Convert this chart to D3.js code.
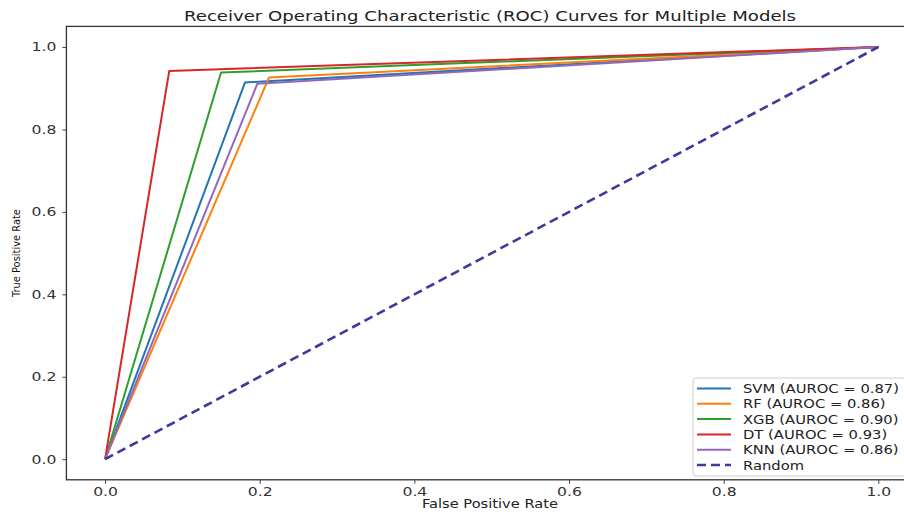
<!DOCTYPE html>
<html>
<head>
<meta charset="utf-8">
<script src="https://cdn.jsdelivr.net/npm/d3@7"></script>
<style>
  body { margin: 0; background: #fff; }
  svg { display: block; font-family: "DejaVu Sans", sans-serif; }
</style>
</head>
<body>
<div id="parentdiv"></div>
<script>
const width = 904;
const height = 512;

// ROC points per model (fpr, tpr)
var models = ["SVM", "RF", "XGB", "DT", "KNN"];
var aurocs = ["0.87", "0.86", "0.90", "0.93", "0.86"];
var fpr = [[0, 0.181, 1], [0, 0.212, 1], [0, 0.150, 1], [0, 0.083, 1], [0, 0.197, 1]];
var tpr = [[0, 0.914, 1], [0, 0.926, 1], [0, 0.938, 1], [0, 0.942, 1], [0, 0.911, 1]];
var colors = ["#1f77b4", "#ff7f0e", "#2ca02c", "#d62728", "#9467bd"];
var randomLine = [[0, 0], [1, 1]];
var tickValues = [0, 0.2, 0.4, 0.6, 0.8, 1.0];

var margin = {left: 66.4, right: 917, top: 26.4, bottom: 479.8};
var stretchK = 1.22; // the picture is wider than tall, text gets stretched

var xScale = d3.scaleLinear().domain([-0.05, 1.05]).range([margin.left, margin.right]);
var yScale = d3.scaleLinear().domain([-0.05, 1.05]).range([margin.bottom, margin.top]);

var svg = d3.select("#parentdiv").append("svg")
    .attr("width", width)
    .attr("height", height);

function stretch(sel, k) {
    sel.each(function () {
        var len = this.getComputedTextLength();
        d3.select(this).attr("textLength", len * k).attr("lengthAdjust", "spacingAndGlyphs");
    });
}

// title
svg.append("text")
    .attr("x", 490)
    .attr("y", 21)
    .attr("text-anchor", "middle")
    .attr("font-size", 14.5)
    .attr("fill", "#222")
    .attr("textLength", 612)
    .attr("lengthAdjust", "spacingAndGlyphs")
    .text("Receiver Operating Characteristic (ROC) Curves for Multiple Models");

var line = d3.line()
    .x(d => xScale(d[0]))
    .y(d => yScale(d[1]));

var plot = svg.append("g");

models.forEach(function (m, i) {
    var pts = fpr[i].map((f, j) => [f, tpr[i][j]]);
    plot.append("path")
        .attr("d", line(pts))
        .attr("fill", "none")
        .attr("stroke", colors[i])
        .attr("stroke-width", 2)
        .attr("stroke-linejoin", "round");
});

plot.append("path")
    .attr("d", line(randomLine))
    .attr("fill", "none")
    .attr("stroke", "#3b3b9c")
    .attr("stroke-width", 2.6)
    .attr("stroke-dasharray", "9,5");

// frame
svg.append("rect")
    .attr("x", margin.left)
    .attr("y", margin.top)
    .attr("width", margin.right - margin.left)
    .attr("height", margin.bottom - margin.top)
    .attr("fill", "none")
    .attr("stroke", "#333")
    .attr("stroke-width", 1.3);

var xAxis = d3.axisBottom(xScale).tickValues(tickValues).tickFormat(d3.format(".1f")).tickSize(4).tickPadding(4);
var yAxis = d3.axisLeft(yScale).tickValues(tickValues).tickFormat(d3.format(".1f")).tickSize(4).tickPadding(6);

var gx = svg.append("g")
    .attr("transform", "translate(0," + margin.bottom + ")")
    .call(xAxis);
var gy = svg.append("g")
    .attr("transform", "translate(" + margin.left + ",0)")
    .call(yAxis);
[gx, gy].forEach(function (g) {
    g.select(".domain").remove();
    g.selectAll("line").attr("stroke", "#444");
    g.selectAll("text").attr("font-size", 12).attr("fill", "#333").attr("font-family", "DejaVu Sans");
    stretch(g.selectAll("text"), 1.3);
});

svg.append("text")
    .attr("x", 490)
    .attr("y", 508)
    .attr("text-anchor", "middle")
    .attr("font-size", 12)
    .attr("fill", "#222")
    .text("False Positive Rate")
    .call(stretch, stretchK);

svg.append("text")
    .attr("transform", "translate(20,253) rotate(-90)")
    .attr("text-anchor", "middle")
    .attr("font-size", 11)
    .attr("font-family", "DejaVu Sans Condensed")
    .attr("fill", "#111")
    .text("True Positive Rate");

// legend
var legend = svg.append("g").attr("transform", "translate(693,378)");
legend.append("rect")
    .attr("width", 230)
    .attr("height", 98)
    .attr("rx", 3)
    .attr("fill", "#fff")
    .attr("fill-opacity", 0.9)
    .attr("stroke", "#ccc");

var labels = models.map((m, i) => m + " (AUROC = " + aurocs[i] + ")").concat(["Random"]);
labels.forEach(function (lab, i) {
    var yy = 10.5 + i * 15.3;
    legend.append("line")
        .attr("x1", 4).attr("x2", 38)
        .attr("y1", yy).attr("y2", yy)
        .attr("stroke", i < models.length ? colors[i] : "#3b3b9c")
        .attr("stroke-width", i < models.length ? 2 : 2.6)
        .attr("stroke-dasharray", i < models.length ? null : "9,5");
    legend.append("text")
        .attr("x", 50)
        .attr("y", yy + 4.5)
        .attr("font-size", 12.5)
        .attr("fill", "#222")
        .text(lab)
        .call(stretch, 1.18);
});
</script>
</body>
</html>
